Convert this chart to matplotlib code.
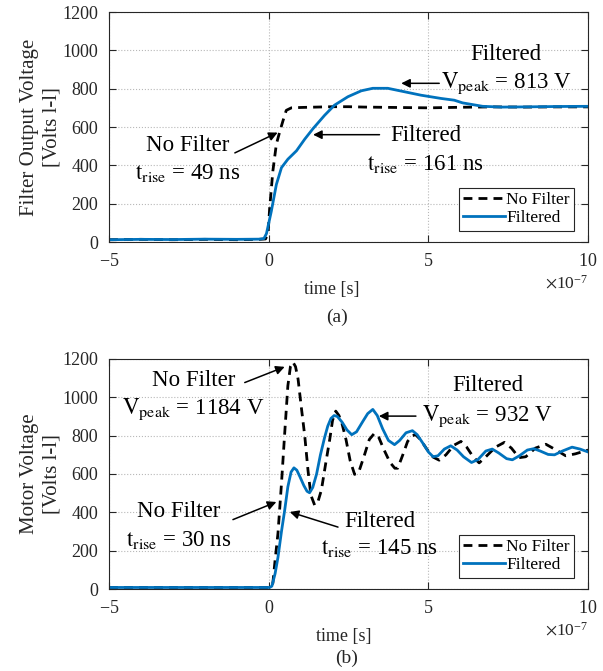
#!/usr/bin/env python3
"""
Filter output and motor voltage step responses, with and without the filter.
"""

import matplotlib
matplotlib.use('Agg')
import matplotlib.pyplot as plt
import numpy as np
from matplotlib.ticker import ScalarFormatter

# time values in units of 1e-7 s, voltages in V
top_nofilt_t = [-5, -4, -3, -2, -1, -0.3, -0.1, -0.02, 0.03, 0.13, 0.24, 0.34, 0.45, 0.55,
                0.71, 1.0, 1.5, 2.0, 2.5, 3.0, 4.0, 5.0, 6.0, 7.0, 8.0, 9.0, 10]
top_nofilt_v = [12, 14, 12, 14, 12, 14, 16, 44, 176, 370, 511, 572, 634, 687,
                700, 702, 704, 706, 706, 704, 702, 700, 703, 705, 704, 705, 705]

top_filt_t = [-5, -4, -3, -2, -1, -0.3, -0.15, -0.07, 0.08, 0.24, 0.4, 0.6, 0.87, 1.13,
              1.38, 1.75, 2.06, 2.48, 2.9, 3.26, 3.73, 4.25, 4.77, 5.4, 5.81, 6.07,
              6.7, 7.3, 8.0, 9.0, 10]
top_filt_v = [12, 14, 13, 15, 14, 15, 18, 44, 159, 300, 388, 432, 476, 537,
              590, 661, 714, 758, 789, 802, 802, 784, 766, 749, 740, 726,
              708, 704, 705, 707, 708]

bot_nofilt_t = [-5, -4, -3, -2, -1, 0, 0.03, 0.13, 0.2, 0.29, 0.4, 0.5, 0.6, 0.68, 0.76,
                0.84, 0.92, 1.02, 1.13, 1.23, 1.32, 1.44, 1.55, 1.65, 1.78, 1.91, 2.0,
                2.1, 2.2, 2.3, 2.42, 2.55, 2.69, 2.82, 3.0, 3.15, 3.31, 3.45, 3.6, 3.8,
                3.95, 4.04, 4.2, 4.35, 4.5, 4.6, 4.75, 4.95, 5.15, 5.34, 5.55, 5.8,
                6.02, 6.2, 6.4, 6.59, 6.8, 7.1, 7.38, 7.6, 7.84, 8.05, 8.35, 8.68,
                8.95, 9.3, 9.6, 10]
bot_nofilt_v = [8, 8, 8, 8, 8, 8, 8, 30, 150, 290, 550, 810, 1060, 1160, 1184,
                1160, 1095, 950, 797, 620, 490, 437, 460, 516, 650, 779, 880,
                928, 905, 860, 780, 670, 598, 610, 700, 780, 812, 790, 730, 660,
                630, 630, 700, 770, 800, 805, 780, 730, 688, 672, 700, 750,
                770, 740, 690, 658, 690, 740, 765, 735, 685, 690, 735, 755,
                730, 695, 705, 725]

bot_filt_t = [-5, -4, -3, -2, -1, 0, 0.03, 0.1, 0.2, 0.29, 0.4, 0.5, 0.6, 0.7, 0.79,
              0.88, 0.98, 1.1, 1.2, 1.28, 1.38, 1.5, 1.62, 1.75, 1.85, 1.95, 2.05,
              2.15, 2.3, 2.45, 2.6, 2.75, 2.95, 3.1, 3.26, 3.4, 3.57, 3.75, 3.94,
              4.1, 4.3, 4.5, 4.65, 4.85, 5.0, 5.15, 5.3, 5.5, 5.7, 5.9, 6.1, 6.35,
              6.55, 6.8, 7.0, 7.2, 7.45, 7.63, 7.85, 8.1, 8.3, 8.5, 8.75, 8.95,
              9.2, 9.5, 9.75, 10]
bot_filt_v = [8, 8, 8, 8, 8, 8, 8, 15, 80, 165, 300, 410, 533, 610, 632,
              620, 585, 540, 510, 502, 530, 600, 700, 790, 850, 890, 905,
              900, 870, 830, 805, 820, 875, 915, 937, 905, 835, 775, 753,
              775, 815, 826, 805, 755, 715, 690, 695, 730, 747, 725, 690, 660,
              675, 720, 730, 710, 680, 674, 695, 725, 732, 720, 702, 700,
              720, 740, 730, 715]

SCALE = 1e-7
BLUE = '#0072BD'
SERIF = 'Liberation Serif'

plt.rcParams['font.family'] = SERIF
plt.rcParams['mathtext.fontset'] = 'stix'
plt.rcParams['axes.unicode_minus'] = False


def style_axes(ax):
    ax.set_xlim(-5e-7, 10e-7)
    ax.set_ylim(0, 1200)
    ax.set_xticks(np.array([-5, 0, 5, 10]) * SCALE)
    ax.set_yticks(range(0, 1201, 200))
    fmt = ScalarFormatter(useMathText=True, useOffset=False)
    fmt.set_powerlimits((-7, -7))
    ax.xaxis.set_major_formatter(fmt)
    ax.tick_params(direction='in', top=True, right=True, length=5, width=0.8,
                   labelsize=13, colors='#262626', pad=8)
    ax.xaxis.get_offset_text().set_fontsize(12.5)
    ax.grid(True, linestyle=':', color='0.72', linewidth=0.8)
    for s in ax.spines.values():
        s.set_color('#262626')
        s.set_linewidth(0.8)


def draw_panel(ax, t_nf, v_nf, t_f, v_f, ylabel):
    ax.plot(np.array(t_nf) * SCALE, v_nf, color='k', linestyle=(0, (3.2, 2.2)),
            linewidth=2.0, label='No Filter')
    ax.plot(np.array(t_f) * SCALE, v_f, color=BLUE, linewidth=2.0, label='Filtered')
    style_axes(ax)
    ax.set_ylabel(ylabel, fontsize=15, color='#262626', linespacing=1.2)
    ax.yaxis.set_label_coords(-0.1, 0.5)
    ax.set_xlabel('time [s]', fontsize=13, color='#262626')
    leg = ax.legend(loc='lower right', bbox_to_anchor=(0.971, 0.05), fontsize=12.5,
                    handlelength=2.4, handletextpad=0.1, borderpad=0.25,
                    labelspacing=0.1, borderaxespad=0, fancybox=False,
                    framealpha=1, edgecolor='#262626')
    leg.get_frame().set_linewidth(0.8)


def note(ax, lines, x, ys, tail, head):
    for txt, y in zip(lines, ys):
        ax.text(x * SCALE, y, txt, fontsize=16.5, ha='center', va='center')
    ax.annotate('', xy=(head[0] * SCALE, head[1]), xytext=(tail[0] * SCALE, tail[1]),
                arrowprops=dict(arrowstyle='-|>', color='k', lw=1.1,
                                mutation_scale=13, shrinkA=0, shrinkB=0))


def main():
    fig = plt.figure(figsize=(6.03, 6.71), dpi=100)
    ax1 = fig.add_axes([0.1808, 0.6393, 0.7944, 0.3428])
    ax2 = fig.add_axes([0.1808, 0.1222, 0.7944, 0.3428])

    draw_panel(ax1, top_nofilt_t, top_nofilt_v, top_filt_t, top_filt_v,
               'Filter Output Voltage\n[Volts l-l]')
    draw_panel(ax2, bot_nofilt_t, bot_nofilt_v, bot_filt_t, bot_filt_v,
               'Motor Voltage\n[Volts l-l]')
    ax1.xaxis.set_label_coords(0.466, -0.17)
    ax2.xaxis.set_label_coords(0.49, -0.17)

    # annotations, top panel
    note(ax1, ['No Filter', r'$\mathrm{t_{rise}}$ = 49 ns'], -2.53, [502, 354],
         (-1.06, 465), (0.28, 571))
    note(ax1, ['Filtered', r'$\mathrm{t_{rise}}$ = 161 ns'], 4.92, [555, 405],
         (3.47, 560), (1.39, 560))
    note(ax1, ['Filtered', r'$\mathrm{V_{peak}}$ = 813 V'], 7.43, [978, 828],
         (5.34, 828), (4.15, 828))

    # annotations, bottom panel
    note(ax2, ['No Filter', r'$\mathrm{V_{peak}}$ = 1184 V'], -2.36, [1086, 937],
         (-0.75, 1077), (0.5, 1159))
    note(ax2, ['No Filter', r'$\mathrm{t_{rise}}$ = 30 ns'], -2.83, [402, 253],
         (-1.12, 362), (0.24, 454))
    note(ax2, ['Filtered', r'$\mathrm{t_{rise}}$ = 145 ns'], 3.47, [354, 209],
         (2.17, 323), (0.66, 402))
    note(ax2, ['Filtered', r'$\mathrm{V_{peak}}$ = 932 V'], 6.85, [1060, 902],
         (4.61, 902), (3.45, 902))

    fig.text(0.559, 0.5276, '(a)', fontsize=14, ha='center', va='center', color='#262626')
    fig.text(0.575, 0.0194, '(b)', fontsize=14, ha='center', va='center', color='#262626')

    fig.savefig('out.png', dpi=100)


if __name__ == "__main__":
    main()
